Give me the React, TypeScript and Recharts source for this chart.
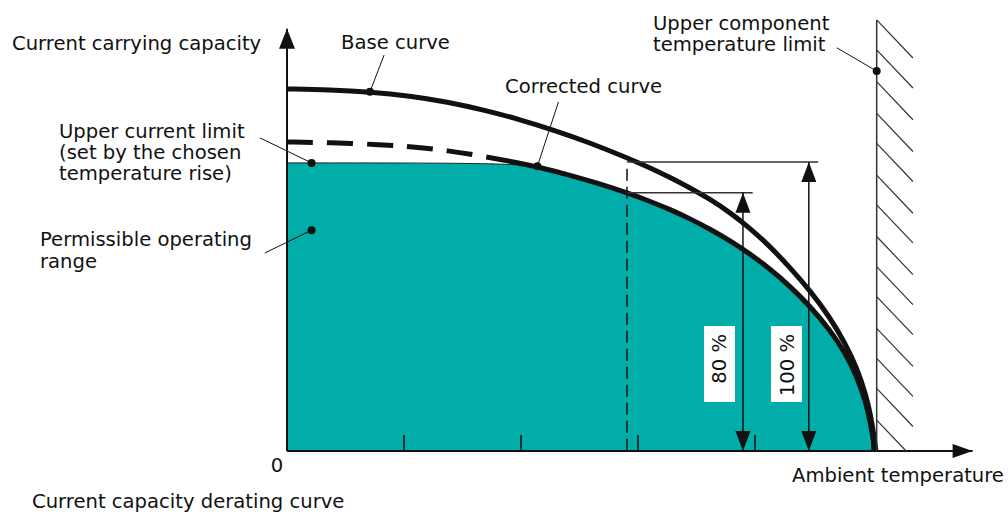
import React from "react";
import {
  Area,
  ComposedChart,
  Line,
  ReferenceDot,
  ReferenceLine,
  XAxis,
  YAxis
} from "recharts";

// x = ambient temperature (one axis tick = 10), y = current carrying capacity
const baseCurve = [
  { x: 0, y: 85.58 },
  { x: 3.68, y: 85.37 },
  { x: 7.09, y: 84.89 },
  { x: 10.51, y: 83.95 },
  { x: 13.68, y: 82.55 },
  { x: 16.92, y: 80.57 },
  { x: 19.91, y: 78.35 },
  { x: 22.91, y: 75.77 },
  { x: 25.64, y: 73.12 },
  { x: 29.06, y: 69.34 },
  { x: 31.03, y: 66.95 },
  { x: 32.74, y: 64.68 },
  { x: 34.44, y: 62.22 },
  { x: 36.15, y: 59.53 },
  { x: 37.86, y: 56.38 },
  { x: 39.57, y: 52.7 },
  { x: 41.28, y: 48.35 },
  { x: 42.99, y: 43.38 },
  { x: 44.7, y: 37.94 },
  { x: 46.41, y: 31.56 },
  { x: 47.69, y: 25.53 },
  { x: 48.72, y: 19.62 },
  { x: 49.49, y: 13.24 },
  { x: 49.91, y: 8.04 },
  { x: 50.17, y: 3.43 },
  { x: 50.34, y: 0 }
];

const correctedCurve = [
  { x: 0, y: 73.05 },
  { x: 3.68, y: 72.88 },
  { x: 7.95, y: 72.46 },
  { x: 11.37, y: 71.75 },
  { x: 13.68, y: 71.04 },
  { x: 16.5, y: 69.79 },
  { x: 19.32, y: 68.37 },
  { x: 21.62, y: 67.04 },
  { x: 24.19, y: 65.2 },
  { x: 26.75, y: 63.14 },
  { x: 29.06, y: 61.04 },
  { x: 31.03, y: 59.03 },
  { x: 32.74, y: 57.09 },
  { x: 34.44, y: 54.92 },
  { x: 36.15, y: 52.46 },
  { x: 37.86, y: 49.72 },
  { x: 39.57, y: 46.6 },
  { x: 41.28, y: 43.05 },
  { x: 42.99, y: 38.98 },
  { x: 44.7, y: 34.26 },
  { x: 46.41, y: 28.58 },
  { x: 47.69, y: 23.26 },
  { x: 48.72, y: 17.59 },
  { x: 49.49, y: 11.42 },
  { x: 49.91, y: 6.1 },
  { x: 50.17, y: 1.49 },
  { x: 50.26, y: 0 }
];

const upperCurrentLimit = 68.1;
const upperTempLimit = 50.4;

// permissible range = corrected curve capped at the upper current limit
const operatingRange = [
  { x: 0, y: upperCurrentLimit },
  { x: 19.5, y: upperCurrentLimit },
  ...correctedCurve.filter((p) => p.x > 20)
];

const tempTicks = [10, 20, 30, 40, 50];
const tickLen = 3.8;

const refTemp = 29.06;
const level100 = 68.32;
const level80 = 61.04;
const arrow80X = 38.97;
const arrow100X = 44.6;
const line80End = 39.8;
const line100End = 45.4;

const hatchTops = [101.9, 94.8, 87.3, 79.8, 72.7, 65.2, 58.2, 50.7, 43.6, 36.5, 29.0, 21.9, 14.8, 7.3];
const hatchDx = 3.1;
const hatchDy = 9.0;

const callouts = [
  { dot: { x: 7.09, y: 84.9 }, from: { x: 8.3, y: 93.6 } },
  { dot: { x: 21.4, y: 67.3 }, from: { x: 23.2, y: 82.5 } },
  { dot: { x: 2.1, y: 68.1 }, from: { x: -2.3, y: 74.0 } },
  { dot: { x: 2.1, y: 52.2 }, from: { x: -1.9, y: 46.8 } },
  { dot: { x: 50.4, y: 89.8 }, from: { x: 47.0, y: 95.3 } }
];

const TEAL = "#00ada8";
const INK = "#111";
const THIN = "#333";

function ArrowLine(props: any) {
  const { x1, y1, x2, y2, stroke, strokeWidth, head = 20, half = 7.5, both = false } = props;
  const dx = x2 - x1;
  const dy = y2 - y1;
  const len = Math.sqrt(dx * dx + dy * dy) || 1;
  const ux = dx / len;
  const uy = dy / len;
  const px = -uy;
  const py = ux;
  const tri = (tx: number, ty: number, sx: number, sy: number) => {
    const bx = tx - sx * head;
    const by = ty - sy * head;
    return `${tx},${ty} ${bx + px * half},${by + py * half} ${bx - px * half},${by - py * half}`;
  };
  return (
    <g>
      <line x1={x1} y1={y1} x2={x2} y2={y2} stroke={stroke} strokeWidth={strokeWidth} />
      <polygon points={tri(x2, y2, ux, uy)} fill={stroke} />
      {both && <polygon points={tri(x1, y1, -ux, -uy)} fill={stroke} />}
    </g>
  );
}

const font = "'DejaVu Sans', sans-serif";

export default function App() {
  return (
    <div style={{ position: "absolute", left: 0, top: 0, width: 1008, height: 512, background: "#fff" }}>
      <ComposedChart
        width={1008}
        height={512}
        margin={{ top: 19.5, right: 19, bottom: 61, left: 287 }}
      >
        <XAxis type="number" dataKey="x" domain={[0, 60]} hide allowDataOverflow />
        <YAxis type="number" dataKey="y" domain={[0, 102]} hide allowDataOverflow />

        <Area
          data={operatingRange}
          dataKey="y"
          type="basis"
          fill={TEAL}
          fillOpacity={1}
          stroke="#222"
          strokeWidth={1}
          isAnimationActive={false}
        />
        <Line
          data={baseCurve}
          dataKey="y"
          type="basis"
          stroke={INK}
          strokeWidth={5}
          dot={false}
          isAnimationActive={false}
        />
        <Line
          data={correctedCurve}
          dataKey="y"
          type="basis"
          stroke={INK}
          strokeWidth={5}
          strokeDasharray="26 14 26 14 26 14 26 14 26 14 3000"
          dot={false}
          isAnimationActive={false}
        />

        {/* axes */}
        <ReferenceLine
          segment={[{ x: 0, y: 0 }, { x: 0, y: 99.8 }]}
          ifOverflow="visible"
          stroke={INK}
          strokeWidth={2}
          shape={(p: any) => <ArrowLine {...p} head={20} half={8} />}
        />
        <ReferenceLine
          segment={[{ x: 0, y: 0 }, { x: 58.6, y: 0 }]}
          ifOverflow="visible"
          stroke={INK}
          strokeWidth={2}
          shape={(p: any) => <ArrowLine {...p} head={20} half={7} />}
        />
        {tempTicks.map((t) => (
          <ReferenceLine
            key={`tick-${t}`}
            segment={[{ x: t, y: 0 }, { x: t, y: tickLen }]}
            ifOverflow="visible"
            stroke={INK}
            strokeWidth={1.5}
          />
        ))}

        {/* upper component temperature limit with hatching */}
        <ReferenceLine
          segment={[{ x: upperTempLimit, y: 0 }, { x: upperTempLimit, y: hatchTops[0] }]}
          ifOverflow="visible"
          stroke={THIN}
          strokeWidth={1.5}
        />
        {hatchTops.map((t) => {
          const k = t - hatchDy < 0 ? t / hatchDy : 1;
          return (
            <ReferenceLine
              key={`hatch-${t}`}
              segment={[
                { x: upperTempLimit, y: t },
                { x: upperTempLimit + hatchDx * k, y: t - hatchDy * k }
              ]}
              ifOverflow="visible"
              stroke={THIN}
              strokeWidth={1.2}
            />
          );
        })}

        {/* 80 % / 100 % dimensioning */}
        <ReferenceLine
          segment={[{ x: refTemp, y: 66.7 }, { x: refTemp, y: 0 }]}
          ifOverflow="visible"
          stroke={INK}
          strokeWidth={1.5}
          strokeDasharray="12 6"
        />
        <ReferenceLine
          segment={[{ x: refTemp, y: level100 }, { x: line100End, y: level100 }]}
          ifOverflow="visible"
          stroke={THIN}
          strokeWidth={1.5}
        />
        <ReferenceLine
          segment={[{ x: refTemp, y: level80 }, { x: line80End, y: level80 }]}
          ifOverflow="visible"
          stroke={THIN}
          strokeWidth={1.5}
        />
        <ReferenceLine
          segment={[{ x: arrow80X, y: level80 }, { x: arrow80X, y: 0 }]}
          ifOverflow="visible"
          stroke={INK}
          strokeWidth={1.5}
          shape={(p: any) => <ArrowLine {...p} head={20} half={7.5} both />}
        />
        <ReferenceLine
          segment={[{ x: arrow100X, y: level100 }, { x: arrow100X, y: 0 }]}
          ifOverflow="visible"
          stroke={INK}
          strokeWidth={1.5}
          shape={(p: any) => <ArrowLine {...p} head={20} half={7.5} both />}
        />

        {/* callout leaders and dots */}
        {callouts.map((c, i) => (
          <ReferenceLine
            key={`lead-${i}`}
            segment={[c.from, c.dot]}
            ifOverflow="visible"
            stroke={INK}
            strokeWidth={1}
          />
        ))}
        {callouts.map((c, i) => (
          <ReferenceDot
            key={`dot-${i}`}
            x={c.dot.x}
            y={c.dot.y}
            r={4}
            fill={INK}
            stroke="none"
            ifOverflow="visible"
          />
        ))}
      </ComposedChart>

      <svg
        width={1008}
        height={512}
        style={{ position: "absolute", left: 0, top: 0, pointerEvents: "none" }}
        fontFamily={font}
        fontSize={19.6}
        fill="#111"
      >
        <text x={12} y={50}>Current carrying capacity</text>
        <text x={341} y={48.5}>Base curve</text>
        <text x={505} y={92.5}>Corrected curve</text>
        <text x={59} y={137.5}>Upper current limit</text>
        <text x={59} y={158.5}>(set by the chosen</text>
        <text x={59} y={179.5}>temperature rise)</text>
        <text x={40} y={246}>Permissible operating</text>
        <text x={40} y={267.5}>range</text>
        <text x={653} y={29.5}>Upper component</text>
        <text x={653} y={50.5}>temperature limit</text>
        <text x={277} y={472} textAnchor="middle">0</text>
        <text x={792} y={482}>Ambient temperature</text>
        <text x={32} y={508}>Current capacity derating curve</text>

        <rect x={704} y={326} width={31} height={76} fill="#fff" />
        <rect x={771} y={326} width={31} height={76} fill="#fff" />
        <text transform="translate(726,334) rotate(-90)" textAnchor="end">80 %</text>
        <text transform="translate(794,334) rotate(-90)" textAnchor="end">100 %</text>
      </svg>
    </div>
  );
}
